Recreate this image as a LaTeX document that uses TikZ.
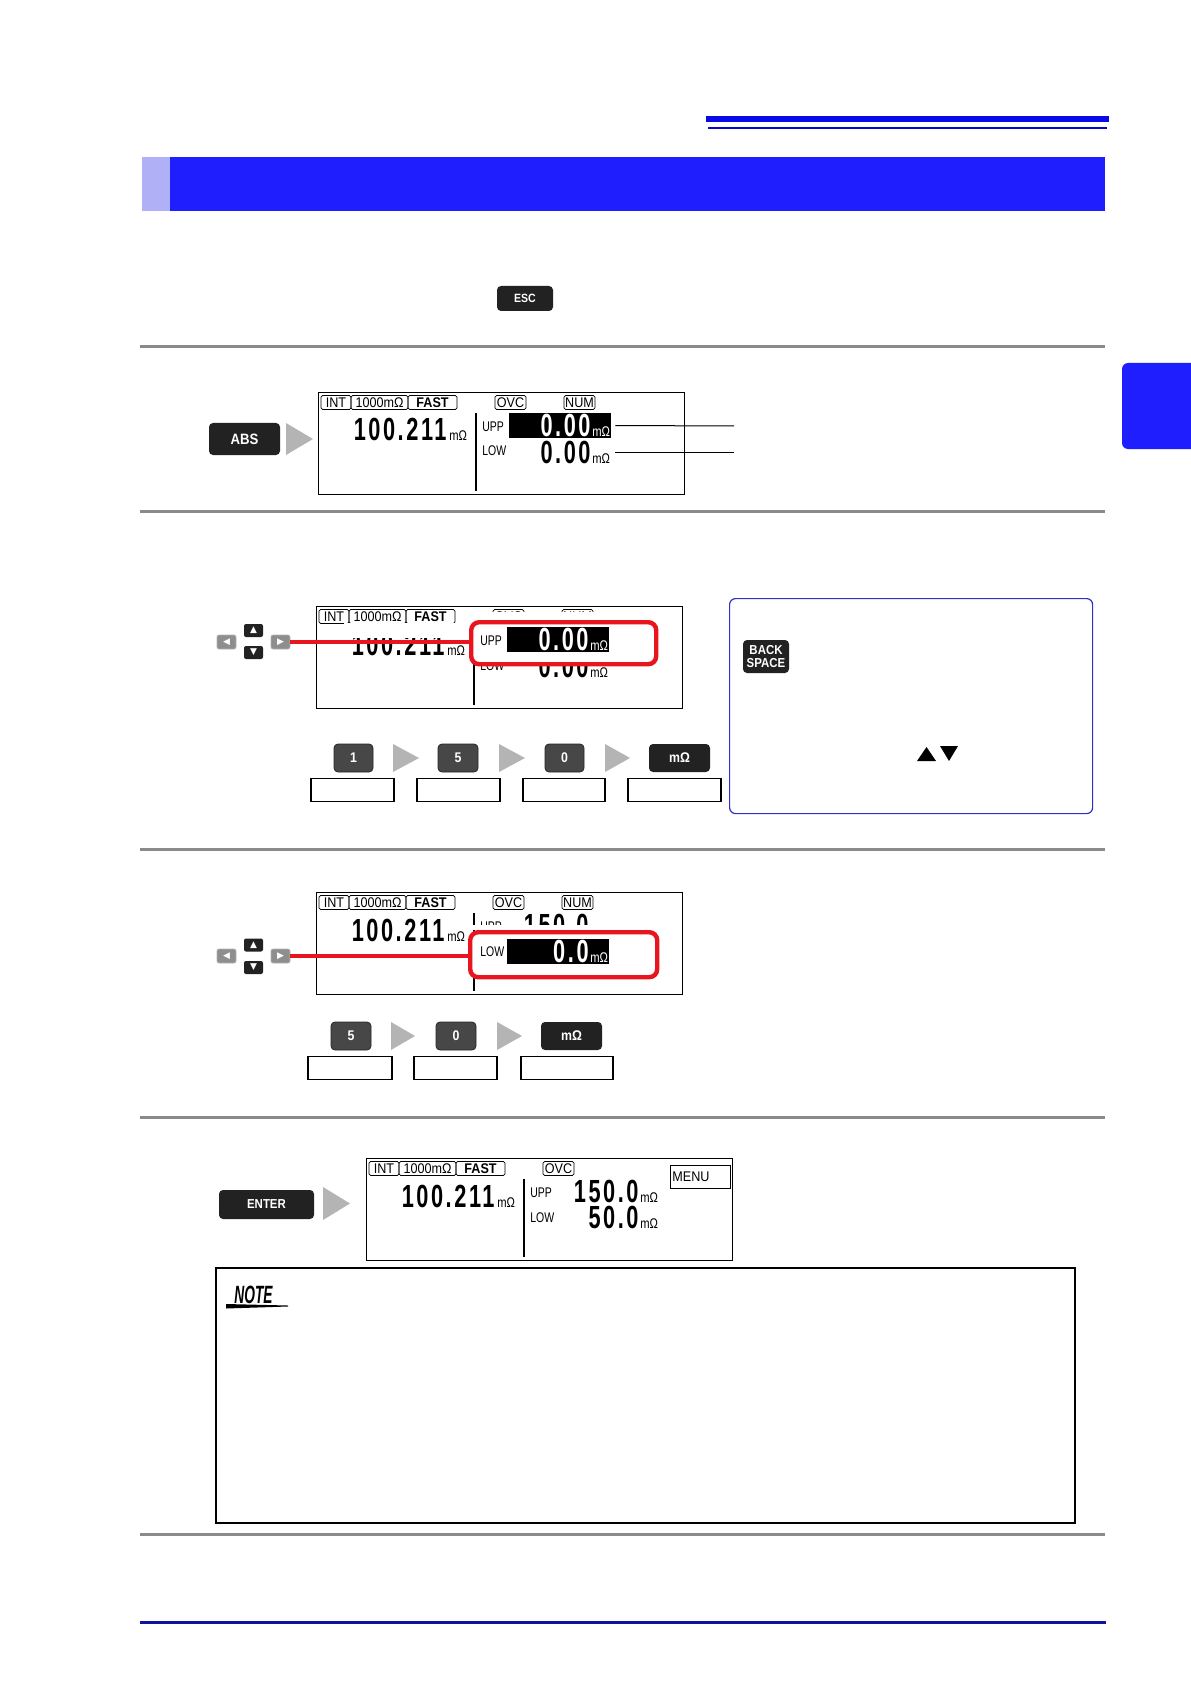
\documentclass[tikz,border=0pt]{standalone}
\usepackage{fontspec}
\setmainfont{Liberation Sans}
\newfontfamily\keyfont[FakeStretch=0.88]{Liberation Sans}
\newfontfamily\lcdfont[FakeStretch=0.8]{Liberation Sans}
\newfontfamily\lcdbigfont[FakeStretch=0.68,LetterSpace=8]{Liberation Sans}
\newfontfamily\labfont[FakeStretch=0.75]{Liberation Sans}
\newfontfamily\statfont[FakeStretch=0.9]{Liberation Sans}
\newfontfamily\notefont[FakeStretch=0.55]{Liberation Sans}
\newfontfamily\dvfont{DejaVu Sans}
\usetikzlibrary{calc}
\definecolor{hdrblue}{HTML}{1E1EFF}
\definecolor{hdrlight}{HTML}{B0B0F6}
\definecolor{topblue}{HTML}{0A0AE6}
\definecolor{sepgray}{HTML}{8A8A8A}
\definecolor{footblue}{HTML}{1212A0}
\definecolor{keyblack}{HTML}{222222}
\definecolor{keygray}{HTML}{474747}
\definecolor{arrgray}{HTML}{B4B4B4}
\definecolor{dirgray}{HTML}{8E8E8E}
\definecolor{redmark}{HTML}{E8141E}
\definecolor{infoblue}{HTML}{3030C8}
\newcommand\bignum{\lcdbigfont\bfseries\fontsize{16}{16}\selectfont}
\newcommand\unitf{\lcdfont\fontsize{7}{7}\selectfont}
\newcommand\labf{\labfont\fontsize{7}{7}\selectfont}
\newcommand\statf{\statfont\fontsize{7}{7}\selectfont}
\newcommand\statbf{\statfont\bfseries\fontsize{7}{7}\selectfont}
\newcommand\dvs{\dvfont\fontsize{4.5}{4.5}\selectfont}
\newcommand\garr[4]{\fill[arrgray] (#1,#2) -- (#3,{(#2+#4)/2}) -- (#1,#4) -- cycle;}
\newcommand\dstatus[1]{%
  \node[sbox, minimum width=15pt] (#1int) at (18,10.5) {INT};
  \node[sbox, minimum width=28.5pt] (#1rng) at (61.5,10.5) {1000mΩ};
  \node[sbox, minimum width=24.5pt, font=\statbf] (#1spd) at (114.5,10.5) {FAST};
  \node[sbox, minimum width=15.5pt] (#1ovc) at (192.5,10.5) {OVC};
  \node[big] (#1val) at (129,49) {100.211};
  \node[unit] (#1valu) at (131,49) {mΩ};
  \draw[line width=1pt] (158,21) -- (158,99);
}
\begin{document}
\begin{tikzpicture}[x=0.5pt,y=-0.5pt,
  key/.style={fill=keyblack, rounded corners=2pt, inner sep=0pt, text=white},
  keysize/.style={font=\keyfont\bfseries\fontsize{#1}{#1}\selectfont},
  numkey/.style={key, fill=keygray, draw=black!85, line width=0.4pt},
  dirkey/.style={fill=keyblack, rounded corners=1pt, inner sep=0pt, minimum width=9.5pt, minimum height=6.5pt, text=white},
  sidekey/.style={dirkey, fill=dirgray, draw=gray!60, line width=0.3pt, minimum height=7pt},
  blank/.style={draw=black, line width=0.75pt, inner sep=0pt, minimum height=11.5pt},
  sbox/.style={draw, line width=0.4pt, rounded corners=0.8pt, inner sep=0pt, minimum height=7pt, text height=5pt, text depth=0pt, font=\statf},
  lcdframe/.style={draw, line width=0.7pt, inner sep=0pt, anchor=north west, minimum width=183pt, minimum height=51pt},
  redbox/.style={draw=redmark, line width=2.2pt, fill=white, rounded corners=4pt, inner sep=0pt, anchor=north west},
  redline/.style={draw=redmark, line width=1.6pt},
  sep/.style={draw=sepgray, line width=1.5pt},
  big/.style={anchor=base east, inner sep=0pt, font=\bignum},
  bigw/.style={big, text=white},
  unit/.style={anchor=base west, inner sep=0pt, font=\unitf},
  unitw/.style={unit, text=white},
  lab/.style={anchor=base west, inner sep=0pt, font=\labf},
  inv/.style={fill=black, inner sep=0pt, minimum width=51pt, minimum height=12.5pt},
]
\useasboundingbox (0,0) rectangle (1190,1684);
% header
\fill[topblue] (706,116) rectangle (1109,122);
\fill[topblue!85!black] (708,127) rectangle (1107,129.5);
\fill[hdrlight] (142,157) rectangle (170,211);
\fill[hdrblue] (170,157) rectangle (1105,211);
\fill[hdrblue, rounded corners=3pt] (1200,363) -- (1122,363) -- (1122,449) -- (1200,449) -- cycle;
% separators
\draw[sep] (140,347) -- (1105,347);
\draw[sep] (140,511) -- (1105,511);
\draw[sep] (140,849) -- (1105,849);
\draw[sep] (140,1117) -- (1105,1117);
\draw[sep] (140,1534) -- (1105,1534);
\draw[footblue, line width=1.5pt] (140,1622) -- (1106,1622);
% ESC
\node[key, keysize=6, minimum width=28pt, minimum height=12.5pt] (esc) at (525,298.5) {ESC};

% ---------- section 1
\node[key, keysize=7.5, minimum width=35.5pt, minimum height=16pt] (abs) at (244.5,439) {ABS};
\garr{286}{423}{313}{455}
\begin{scope}[shift={(318,392)}]
  \node[lcdframe] (d1) at (0,0) {};
  \dstatus{d1}
  \node[sbox, minimum width=15.5pt] (d1num) at (261.5,10.5) {NUM};
  \node[lab] (d1ul) at (164,39) {UPP};
  \node[inv] (d1inv) at (242,33.5) {};
  \node[bigw] (d1uv) at (273,44.5) {0.00};
  \node[unitw] (d1uu) at (274,44.5) {mΩ};
  \node[lab] (d1ll) at (164,64) {LOW};
  \node[big] (d1lv) at (273,71) {0.00};
  \node[unit] (d1lu) at (274,71) {mΩ};
\end{scope}
\coordinate (lead1) at (734,426);
\coordinate (lead2) at (734,452);
\draw[line width=0.5pt] ($(d1inv.east)+(4,0)$) -- (lead1);
\draw[line width=0.5pt] ($(lead2 -| d1inv.east)+(4,0)$) -- (lead2);

% ---------- section 2
\node[sidekey] (l2) at (226.5,642) {\dvs ◀};
\node[dirkey] (u2) at (253.5,630.5) {\dvs ▲};
\node[dirkey] (dn2) at (253.5,652.5) {\dvs ▼};
\node[sidekey] (r2) at (280.5,642) {\dvs ▶};
\begin{scope}[shift={(316,606)}]
  \node[lcdframe] (d2) at (0,0) {};
  \dstatus{d2}
  \node[sbox, minimum width=15.5pt] (d2num) at (261.5,10.5) {NUM};
  \node[lab] (d2ll) at (164,64) {LOW};
  \node[big] (d2lv) at (273,71) {0.00};
  \node[unit] (d2lu) at (274,71) {mΩ};
  \fill[white] (150,6) rectangle (345,14);
  \fill[white] (28,17) rectangle (150,32);
  \node[redbox, minimum width=92.5pt, minimum height=21pt] (rb2) at (153,14) {};
  \node[lab] (d2ul) at (164,39) {UPP};
  \node[inv] (d2inv) at (242,33.5) {};
  \node[bigw] (d2uv) at (273,44.5) {0.00};
  \node[unitw] (d2uu) at (274,44.5) {mΩ};
\end{scope}
\draw[redline] (r2.east) -- (r2.east -| rb2.west);
% keys row 2
\node[numkey, keysize=7, minimum width=19.5pt, minimum height=14pt] (k1) at (353.5,758) {1};
\node[numkey, keysize=7, minimum width=20pt, minimum height=14pt] (k5) at (458,758) {5};
\node[numkey, keysize=7, minimum width=19.5pt, minimum height=14pt] (k0) at (564.5,758) {0};
\node[key, keysize=7, minimum width=30.5pt, minimum height=14pt] (kmo) at (679.5,758) {mΩ};
\garr{393}{744}{419}{772}
\garr{499}{744}{525}{772}
\garr{605}{744}{630}{772}
\node[blank, minimum width=41.5pt] (b1) at (352.5,790) {};
\node[blank, minimum width=41.5pt] (b2) at (458.5,790) {};
\node[blank, minimum width=41pt] (b3) at (564,790) {};
\node[blank, minimum width=46.5pt] (b4) at (674.5,790) {};
% info box
\node[draw=infoblue, line width=0.6pt, rounded corners=3pt, anchor=north west, inner sep=0pt, minimum width=181.5pt, minimum height=107.5pt] (info) at (729,598) {};
\node[key, keysize=6.5, align=center, minimum width=23pt, minimum height=16.5pt] (bs) at (766,656.5) {BACK\\SPACE};
\fill (917,761) -- (926.5,747) -- (936,761) -- cycle;
\fill (940,746) -- (958,746) -- (949,761) -- cycle;

% ---------- section 3
\node[sidekey] (l3) at (226.5,956) {\dvs ◀};
\node[dirkey] (u3) at (253.5,945) {\dvs ▲};
\node[dirkey] (dn3) at (253.5,967.5) {\dvs ▼};
\node[sidekey] (r3) at (280.5,956) {\dvs ▶};
\begin{scope}[shift={(316,892)}]
  \node[lcdframe] (d3) at (0,0) {};
  \dstatus{d3}
  \node[sbox, minimum width=15.5pt] (d3num) at (261.5,10.5) {NUM};
  \node[lab] (d3ul) at (164,39) {UPP};
  \node[big] (d3uv) at (273,44.5) {150.0};
  \node[unit] (d3uu) at (274,44.5) {mΩ};
  \fill[white] (150,33) rectangle (345,38);
  \node[redbox, minimum width=93.5pt, minimum height=22.5pt] (rb3) at (152,38) {};
  \node[lab] (d3ll) at (164,64.5) {LOW};
  \node[inv] (d3inv) at (242,59.5) {};
  \node[bigw] (d3lv) at (273,70.5) {0.0};
  \node[unitw] (d3lu) at (274,70.5) {mΩ};
\end{scope}
\draw[redline] (r3.east) -- (r3.east -| rb3.west);
\node[numkey, keysize=7, minimum width=20pt, minimum height=14pt] (m5) at (351,1036) {5};
\node[numkey, keysize=7, minimum width=20pt, minimum height=14pt] (m0) at (456,1036) {0};
\node[key, keysize=7, minimum width=30.5pt, minimum height=14pt] (mmo) at (571.5,1036) {mΩ};
\garr{391}{1022}{415}{1050}
\garr{497}{1022}{522}{1050}
\node[blank, minimum width=42pt] (c1) at (350,1068) {};
\node[blank, minimum width=41.5pt] (c2) at (455.5,1068) {};
\node[blank, minimum width=46pt] (c3) at (567,1068) {};

% ---------- section 4
\node[key, keysize=6.5, minimum width=47.5pt, minimum height=14.5pt] (enter) at (266.5,1204.5) {ENTER};
\garr{323}{1187}{350}{1220}
\begin{scope}[shift={(366,1158)}]
  \node[lcdframe] (d4) at (0,0) {};
  \dstatus{d4}
  \node[draw, line width=0.5pt, inner sep=0pt, anchor=north west, minimum width=30pt, minimum height=11.5pt] (d4menu) at (304,7) {};
  \node[anchor=west, inner sep=0pt, font=\statf] (d4mt) at (306,18.5) {MENU};
  \node[lab] (d4ul) at (164,39) {UPP};
  \node[big] (d4uv) at (273,44.5) {150.0};
  \node[unit] (d4uu) at (274,44.5) {mΩ};
  \node[lab] (d4ll) at (164,64) {LOW};
  \node[big] (d4lv) at (273,70) {50.0};
  \node[unit] (d4lu) at (274,70) {mΩ};
\end{scope}
% note
\node[draw, line width=0.75pt, anchor=north west, inner sep=0pt, minimum width=429.5pt, minimum height=127.5pt] (notebox) at (215,1267) {};
\node[anchor=base west, inner sep=0pt, font=\notefont\bfseries\itshape\fontsize{12.5}{12.5}\selectfont] (notelogo) at (234,1303) {NOTE};
\fill (226,1304) -- (288,1305.5) -- (288,1306.5) -- (226,1308.5) -- cycle;
\end{tikzpicture}
\end{document}
